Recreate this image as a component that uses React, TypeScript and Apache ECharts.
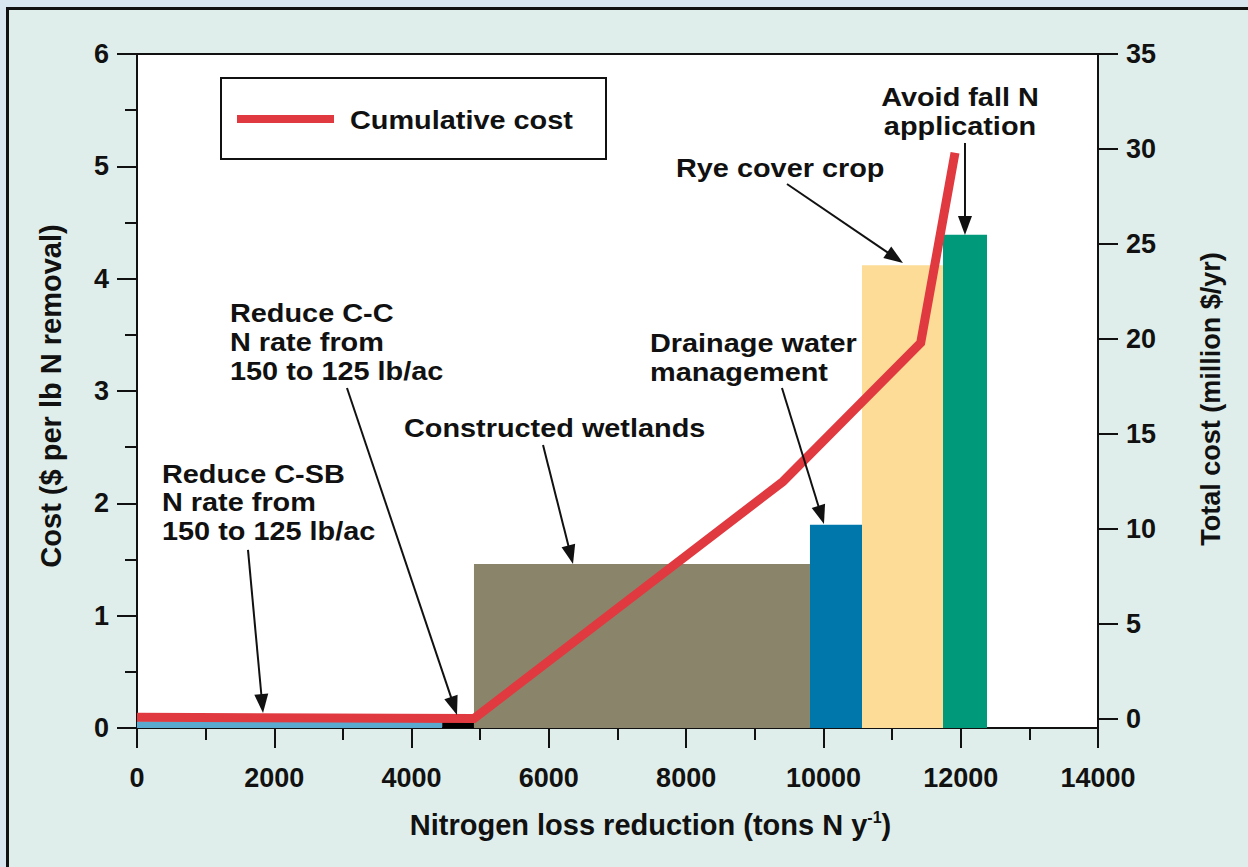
import React, { useEffect, useRef } from "react";
import * as echarts from "echarts";

// ---------- data ----------
const measures = [
  "Reduce C-SB N rate from 150 to 125 lb/ac",
  "Reduce C-C N rate from 150 to 125 lb/ac",
  "Constructed wetlands",
  "Drainage water management",
  "Rye cover crop",
  "Avoid fall N application",
];
const startN = [0, 4446, 4909, 9804, 10562, 11742];
const endN = [4446, 4909, 9804, 10562, 11742, 12383];
const costPerLb = [0.06, 0.06, 1.46, 1.81, 4.12, 4.39];
const barColors = ["#5aaad0", "#000000", "#8a846a", "#0077aa", "#fddc98", "#009a7b"];

const cumulativeN = [0, 4909, 9411, 11417, 11917];
const cumulativeCost = [0.1, 0.03, 12.5, 19.8, 29.8];

const xTicks = [0, 2000, 4000, 6000, 8000, 10000, 12000, 14000];
const leftTicks = [0, 1, 2, 3, 4, 5, 6];
const rightTicks = [0, 5, 10, 15, 20, 25, 30, 35];

// annotation texts and arrows (arrow ends in data coordinates: N, cost per lb)
const annoText = [
  "Reduce C-SB\nN rate from\n150 to 125 lb/ac",
  "Reduce C-C\nN rate from\n150 to 125 lb/ac",
  "Constructed wetlands",
  "Drainage water\nmanagement",
  "Rye cover crop",
  "Avoid fall N\napplication",
];
const arrowTailN = [1617, 3059, 5915, 9396, 9469, 12062];
const arrowTailCost = [1.585, 3.027, 2.519, 3.027, 4.843, 5.208];
const arrowTipN = [1836, 4662, 6352, 10008, 11159, 12062];
const arrowTipCost = [0.134, 0.116, 1.46, 1.816, 4.14, 4.389];

// ---------- layout ----------
const W = 1248;
const H = 867;
const FONT = '"Liberation Sans", Arial, Helvetica, sans-serif';
const OUTER = "#d8e7ef";
const BOX = "#dfeeea";
const RED = "#e03a40";
const INK = "#111111";
const annoPos: [number, number, string][] = [
  [162, 459, "left"],
  [230, 298.5, "left"],
  [404, 413, "left"],
  [650, 328.5, "left"],
  [676, 153.5, "left"],
  [960, 82.5, "center"],
];

export default function App() {
  const ref = useRef<HTMLDivElement>(null);
  useEffect(() => {
    if (!ref.current) return;
    const chart = echarts.init(ref.current, null, { renderer: "svg" });
    const barData = measures.map((m, i) => ({
      name: m,
      value: [startN[i], endN[i], costPerLb[i]],
      itemStyle: { color: barColors[i] },
    }));
    const lineData = cumulativeN.map((n, i) => [n, cumulativeCost[i]]);
    const labelStyle = { color: INK, fontSize: 27, fontWeight: "bold" as const, fontFamily: FONT };
    const titleStyle = { color: INK, fontSize: 28, fontWeight: "bold" as const, fontFamily: FONT };
    const plain = (v: number) => String(v);
    const option: any = {
      animation: false,
      backgroundColor: BOX,
      grid: {
        left: 137,
        top: 54,
        right: W - 1098,
        bottom: H - 728,
        show: true,
        backgroundColor: "#ffffff",
        borderColor: INK,
        borderWidth: 2,
      },
      xAxis: {
        type: "value",
        min: 0,
        max: 14000,
        interval: 2000,
        name: "{a|Nitrogen loss reduction (tons N y}{s|-1}{a|)}",
        nameLocation: "middle",
        nameGap: 81,
        nameTextStyle: {
          padding: [0, 0, 0, 66],
          rich: {
            a: { fontSize: 29, fontWeight: "bold", fontFamily: FONT, color: INK, lineHeight: 32 },
            s: { fontSize: 16, fontWeight: "bold", fontFamily: FONT, color: INK, lineHeight: 17, verticalAlign: "top" },
          },
        },
        axisLine: { lineStyle: { color: INK, width: 2 } },
        axisTick: { length: 20, lineStyle: { color: INK, width: 2 } },
        minorTick: { show: true, splitNumber: 2, length: 12, lineStyle: { color: INK, width: 2 } },
        axisLabel: { ...labelStyle, margin: 36, customValues: xTicks, formatter: plain },
        splitLine: { show: false },
        minorSplitLine: { show: false },
      },
      yAxis: [
        {
          type: "value",
          min: 0,
          max: 6,
          interval: 1,
          position: "left",
          name: "Cost ($ per lb N removal)",
          nameLocation: "middle",
          nameGap: 72,
          nameTextStyle: { ...titleStyle, fontSize: 29, padding: [0, 10, 0, 0] },
          axisLine: { show: true, lineStyle: { color: INK, width: 2 } },
          axisTick: { show: true, length: 20, lineStyle: { color: INK, width: 2 } },
          minorTick: { show: true, splitNumber: 2, length: 12, lineStyle: { color: INK, width: 2 } },
          axisLabel: { ...labelStyle, margin: 28, customValues: leftTicks, formatter: plain },
          splitLine: { show: false },
        },
        {
          type: "value",
          min: -0.47,
          max: 35,
          position: "right",
          name: "Total cost (million $/yr)",
          nameLocation: "middle",
          nameGap: 99,
          nameTextStyle: { ...titleStyle, fontSize: 27, padding: [0, 16, 0, 0] },
          axisLine: { show: true, lineStyle: { color: INK, width: 2 } },
          axisTick: { show: true, length: 20, lineStyle: { color: INK, width: 2 }, customValues: rightTicks },
          axisLabel: { ...labelStyle, margin: 28, customValues: rightTicks, formatter: plain },
          splitLine: { show: false },
        },
      ],
      series: [
        {
          type: "custom",
          name: "Cost per lb N",
          xAxisIndex: 0,
          yAxisIndex: 0,
          encode: { x: [0, 1], y: 2 },
          data: barData,
          z: 2,
          renderItem: (params: any, api: any) => {
            const p0 = api.coord([api.value(0), api.value(2)]);
            const p1 = api.coord([api.value(1), 0]);
            return {
              type: "rect",
              shape: { x: p0[0], y: p0[1], width: p1[0] - p0[0], height: p1[1] - p0[1] },
              style: { fill: barColors[params.dataIndex] },
            };
          },
        },
        {
          type: "line",
          name: "Cumulative cost",
          xAxisIndex: 0,
          yAxisIndex: 1,
          data: lineData,
          symbol: "none",
          z: 5,
          lineStyle: { color: RED, width: 9, cap: "butt", join: "miter" },
        },
      ],
    };
    chart.setOption(option);

    const graphics: any[] = [];
    // page edge and box border
    graphics.push({ type: "rect", silent: true, z: 100, shape: { x: 0, y: 0, width: W, height: 7 }, style: { fill: OUTER } });
    graphics.push({ type: "rect", silent: true, z: 100, shape: { x: 0, y: 0, width: 6, height: H }, style: { fill: OUTER } });
    graphics.push({
      type: "polyline",
      silent: true,
      z: 101,
      shape: { points: [[7.5, H + 5], [7.5, 8.5], [W + 5, 8.5]] },
      style: { stroke: INK, lineWidth: 3, fill: null },
    });
    // legend
    graphics.push({ type: "rect", z: 100, shape: { x: 221, y: 78, width: 385, height: 81 }, style: { fill: "#ffffff", stroke: INK, lineWidth: 2 } });
    graphics.push({ type: "line", z: 101, shape: { x1: 237, y1: 119, x2: 334, y2: 119 }, style: { stroke: RED, lineWidth: 8 } });
    graphics.push({
      type: "text",
      z: 101,
      x: 350,
      y: 120,
      scaleX: 1.11,
      style: { text: "Cumulative cost", x: 0, y: 0, fontSize: 26, fontWeight: "bold", fontFamily: FONT, fill: INK, align: "left", verticalAlign: "middle" },
    });
    // annotation texts
    annoText.forEach((t, i) => {
      const [px, py, al] = annoPos[i];
      graphics.push({
        type: "text",
        z: 102,
        x: px,
        y: py,
        scaleX: 1.11,
        style: { text: t, x: 0, y: 0, fontSize: 26, fontWeight: "bold", fontFamily: FONT, fill: INK, align: al, verticalAlign: "top", lineHeight: 29 },
      });
    });
    // arrows
    const headLen = 19;
    const headW = 14;
    arrowTailN.forEach((_, i) => {
      const a = chart.convertToPixel({ gridIndex: 0 }, [arrowTailN[i], arrowTailCost[i]]) as number[];
      const b = chart.convertToPixel({ gridIndex: 0 }, [arrowTipN[i], arrowTipCost[i]]) as number[];
      const dx = b[0] - a[0];
      const dy = b[1] - a[1];
      const len = Math.sqrt(dx * dx + dy * dy);
      const ux = dx / len;
      const uy = dy / len;
      const bx = b[0] - ux * headLen;
      const by = b[1] - uy * headLen;
      const nx = -uy;
      const ny = ux;
      graphics.push({ type: "line", z: 103, shape: { x1: a[0], y1: a[1], x2: bx + ux * 2, y2: by + uy * 2 }, style: { stroke: INK, lineWidth: 2 } });
      graphics.push({
        type: "polygon",
        z: 103,
        shape: { points: [[b[0], b[1]], [bx + (nx * headW) / 2, by + (ny * headW) / 2], [bx - (nx * headW) / 2, by - (ny * headW) / 2]] },
        style: { fill: INK },
      });
    });
    chart.setOption({ graphic: graphics });
    return () => chart.dispose();
  }, []);
  return (
    <div
      ref={ref}
      style={{ position: "absolute", left: 0, top: 0, width: W, height: H, background: OUTER }}
    />
  );
}
